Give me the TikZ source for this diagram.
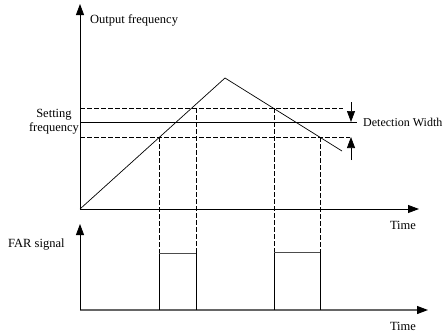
\documentclass[tikz,border=0pt]{standalone}
\usepackage{fontspec}
\setmainfont{Liberation Serif}
\usetikzlibrary{arrows.meta}
\begin{document}
\begin{tikzpicture}[x=1pt,y=-1pt,
  axis/.style={line width=0.8pt,-{Triangle[length=11pt,width=8pt,color=black]}},
  gaxis/.style={axis,draw=black!60,line width=1.1pt},
  dline/.style={line width=0.7pt,dash pattern=on 4.5pt off 2.5pt},
  sline/.style={line width=0.7pt},
  lbl/.style={font=\fontsize{12.5}{14}\selectfont,inner sep=0pt},
  warrow/.style={line width=0.7pt,-{Triangle[length=11pt,width=8pt]}}]
\useasboundingbox (0,0) rectangle (444,333);
% coordinates
\coordinate (O) at (80,209);
\coordinate (Ytop) at (80,4);
\coordinate (Xend) at (419,209);
\coordinate (O2) at (80,310);
\coordinate (Y2top) at (80,224);
\coordinate (X2end) at (428,310);
\coordinate (P) at (225,78);
\coordinate (Fend) at (342,151);
\coordinate (UdL) at (80,108);
\coordinate (UdR) at (343,108);
\coordinate (SL) at (80,122);
\coordinate (SR) at (357,122);
\coordinate (LdL) at (80,137);
\coordinate (LdR) at (350,137);
\coordinate (A1t) at (351,102);
\coordinate (A1h) at (351,122);
\coordinate (A2t) at (351,160);
\coordinate (A2h) at (351,137);
% vertical dashed
\coordinate (V1a) at (159,137); \coordinate (V1b) at (159,253); \coordinate (V1c) at (159,310);
\coordinate (V2a) at (196,108); \coordinate (V2b) at (196,253); \coordinate (V2c) at (196,310);
\coordinate (V3a) at (274,108); \coordinate (V3b) at (274,252); \coordinate (V3c) at (274,310);
\coordinate (V4a) at (320,137); \coordinate (V4b) at (320,252); \coordinate (V4c) at (320,310);
% axes
\draw[axis] (O) -- (Ytop);
\draw[axis] (O) -- (Xend);
\draw[gaxis] (O2) -- (X2end);
\draw[axis] (O2) -- (Y2top);
% frequency curve
\draw[sline] (O) -- (P) -- (Fend);
% levels
\draw[dline] (UdL) -- (UdR);
\draw[sline] (SL) -- (SR);
\draw[dline] (LdL) -- (LdR);
% detection width arrows
\draw[warrow] (A1t) -- (A1h);
\draw[warrow] (A2t) -- (A2h);
% verticals
\draw[dline] (V1a) -- (V1b);
\draw[dline] (V2a) -- (V2b);
\draw[dline] (V3a) -- (V3b);
\draw[dline] (V4a) -- (V4b);
\draw[sline] (V1b) -- (V1c);
\draw[sline] (V2b) -- (V2c);
\draw[sline] (V3b) -- (V3c);
\draw[sline] (V4b) -- (V4c);
% pulses
\draw[line width=1pt,draw=black!70] (V1b) -- (V2b);
\draw[line width=1pt,draw=black!70] (V3b) -- (V4b);
% labels
\node[lbl,anchor=west] (of) at (90,20) {Output frequency};
\node[lbl,align=center] (sf) at (54,122) {Setting\\frequency};
\node[lbl,anchor=west,font=\fontsize{12}{14}\selectfont] (dw) at (363,122) {Detection Width};
\node[lbl] (t1) at (403,225) {Time};
\node[lbl] (t2) at (403,326) {Time};
\node[lbl,anchor=west] (far) at (8,245) {FAR signal};
\end{tikzpicture}
\end{document}
